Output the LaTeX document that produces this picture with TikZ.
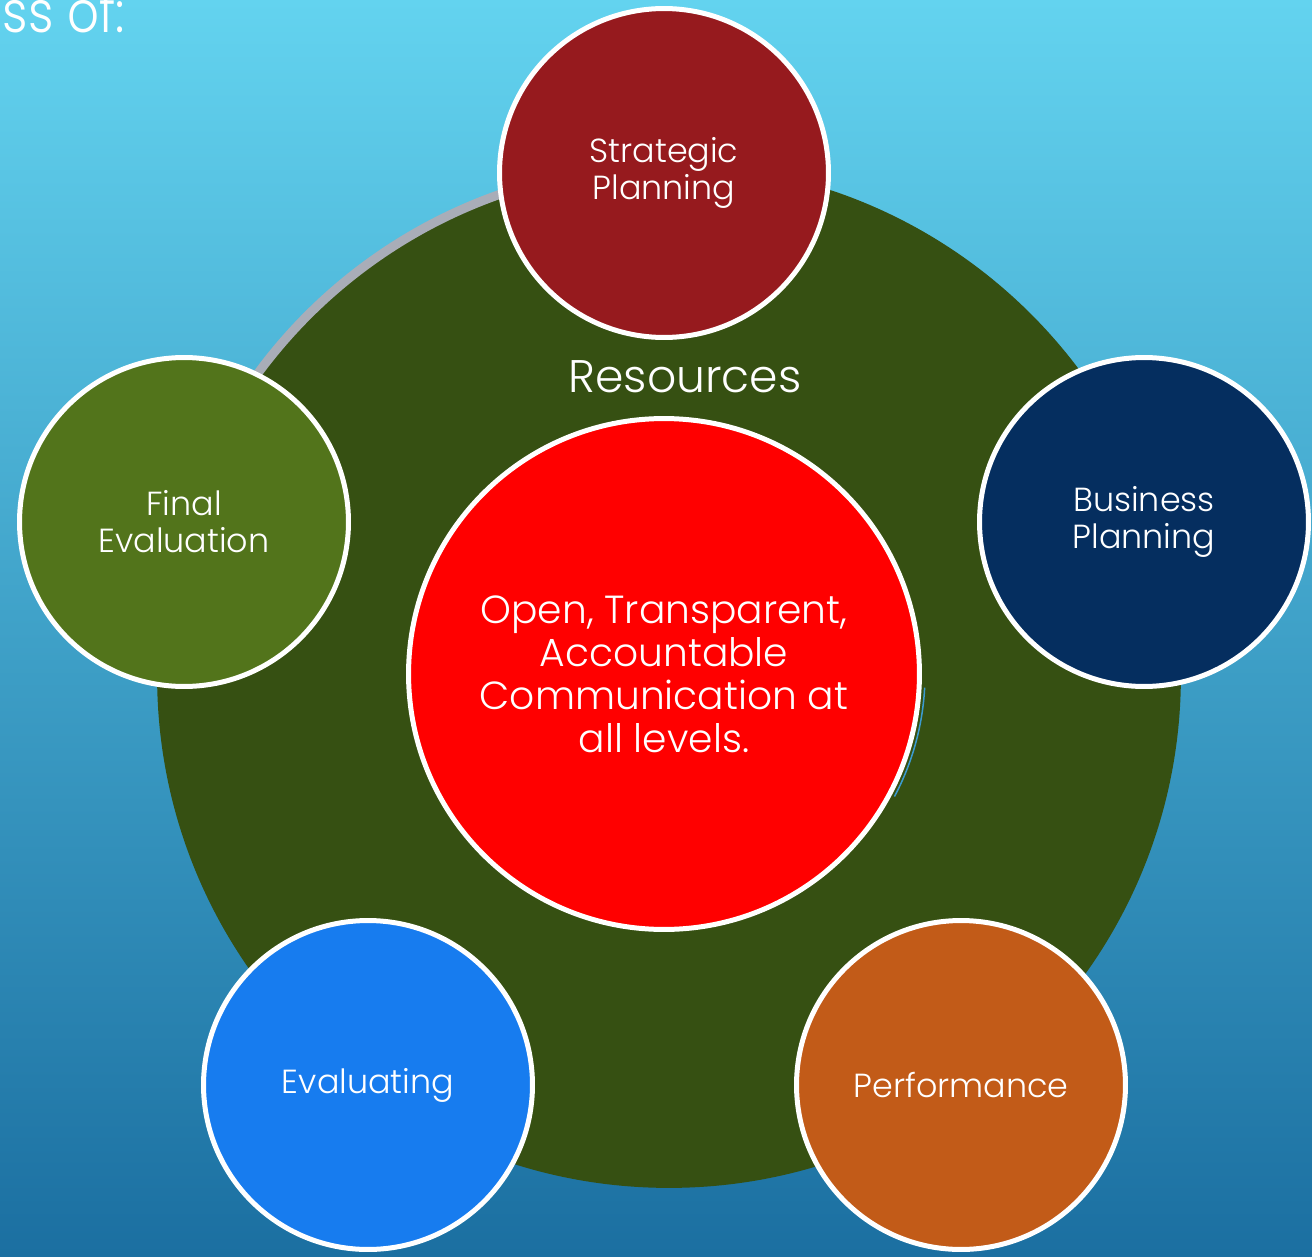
\documentclass[tikz,border=0pt]{standalone}
\usepackage{fontspec}
\setmainfont{Poppins}[UprightFont=* Light]
\usepackage{tikz}

\definecolor{skytop}{RGB}{99,211,239}
\definecolor{skymid}{RGB}{66,167,208}
\definecolor{skybottom}{RGB}{27,111,161}
\definecolor{ringgreen}{RGB}{54,80,18}
\definecolor{ringgrey}{RGB}{169,173,184}
\definecolor{stratred}{RGB}{150,26,30}
\definecolor{busnavy}{RGB}{5,46,95}
\definecolor{perforange}{RGB}{194,91,24}
\definecolor{evalblue}{RGB}{23,124,239}
\definecolor{finalgreen}{RGB}{82,116,27}
\definecolor{sliverblue}{RGB}{59,155,208}

\begin{document}
\begin{tikzpicture}[
    x=0.02cm,
    y=-0.02cm,
    petal/.style={
      circle,
      draw=white,
      line width=0.1cm,
      minimum size=6.58cm,
      inner sep=0pt,
      align=center,
      text=white,
      font=\fontsize{19}{21}\selectfont
    },
    hub/.style={
      circle,
      draw=white,
      fill=red,
      line width=0.1cm,
      minimum size=10.22cm,
      inner sep=0pt,
      align=center,
      text=white,
      font=\fontsize{22.3}{24.5}\selectfont
    },
    ring/.style={
      circle,
      fill=ringgreen,
      minimum size=20.48cm,
      inner sep=0pt
    }
]
\useasboundingbox (0,0) rectangle (1312,1257);

% Background
\shade [top color=skytop, middle color=skymid, bottom color=skybottom]
  (0,0) rectangle (1312,1257);
\node (heading) [anchor=base east, xscale=0.86, inner xsep=0pt, text=white,
  font=\fontsize{33}{33}\selectfont] at (125,33) {ss of:};

% Ring
\node (resring) [ring] at (669,676) {};
\draw [ringgrey, line width=0.18cm] (resring.center) ++(260:510.5)
  arc[start angle=260, end angle=205, radius=510.5];
\node (resources) [text=white, font=\fontsize{26}{26}\selectfont] at (685,377) {Resources};

% Centre
\node (core) [hub] at (664,674) {Open, Transparent,\\ Accountable\\ Communication at\\ all levels.};
\draw [sliverblue, line width=0.03cm] (core.center) ++(3:261)
  arc[start angle=3, end angle=28, radius=261];

% Stages
\node (strategic) [petal, fill=stratred] at (664,173) {Strategic\\ Planning};
\node (business) [petal, fill=busnavy] at (1144,522) {Business\\ Planning};
\node (performance) [petal, fill=perforange] at (961,1085) {Performance};
\node (evaluating) [petal, fill=evalblue] at (368,1085) {Evaluating};
\node (final) [petal, fill=finalgreen] at (184,522) {Final\\ Evaluation};

\end{tikzpicture}
\end{document}
